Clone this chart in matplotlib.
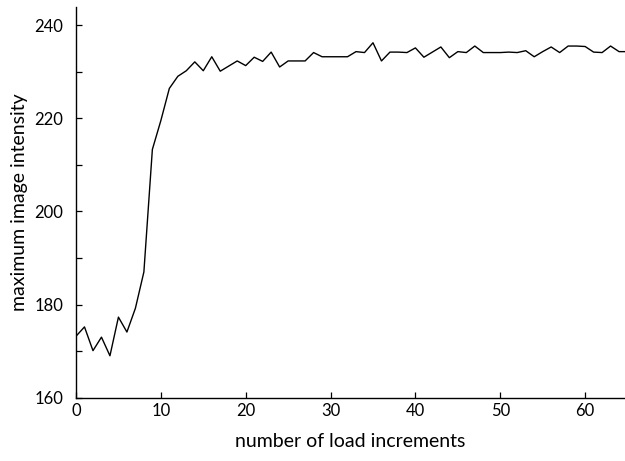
import matplotlib.pyplot as plt
from matplotlib.ticker import MultipleLocator

# -------------------------
# Data
# -------------------------
increments = list(range(0, 66))

max_intensity = [
    173.2, 175.2, 170.1, 173.0, 169.0, 177.3, 174.1, 179.2, 187.0, 213.3,
    219.5, 226.4, 229.0, 230.2, 232.1, 230.2, 233.2, 230.1, 231.2, 232.3,
    231.3, 233.1, 232.2, 234.2, 231.0, 232.3, 232.3, 232.3, 234.1, 233.2,
    233.2, 233.2, 233.2, 234.3, 234.1, 236.2, 232.3, 234.2, 234.2, 234.1,
    235.1, 233.1, 234.2, 235.3, 233.0, 234.3, 234.1, 235.5, 234.1, 234.1,
    234.1, 234.2, 234.1, 234.5, 233.2, 234.3, 235.3, 234.1, 235.5, 235.5,
    235.4, 234.2, 234.1, 235.5, 234.3, 234.3,
]

plt.rcParams["font.family"] = ["Lato", "DejaVu Sans"]

fig = plt.figure(figsize=(6.25, 4.61), dpi=100)
ax = fig.add_axes([0.1216, 0.1373, 0.8784, 0.8477])

ax.plot(increments, max_intensity, color="black", linewidth=1.0)

ax.set_xlim(0, 64.7)
ax.set_ylim(160, 243.9)
ax.xaxis.set_major_locator(MultipleLocator(10))
ax.yaxis.set_major_locator(MultipleLocator(20))
ax.yaxis.set_minor_locator(MultipleLocator(10))

ax.spines["top"].set_visible(False)
ax.spines["right"].set_visible(False)
for s in ("left", "bottom"):
    ax.spines[s].set_linewidth(1.0)

ax.tick_params(which="both", direction="in", length=4, width=0.9,
               labelsize=12)
ax.tick_params(axis="y", which="both", pad=9)
ax.tick_params(axis="x", pad=4)

ax.set_xlabel("number of load increments", fontsize=14, labelpad=10)
ax.set_ylabel("maximum image intensity", fontsize=14, labelpad=5)

fig.savefig("out.png", dpi=100)
